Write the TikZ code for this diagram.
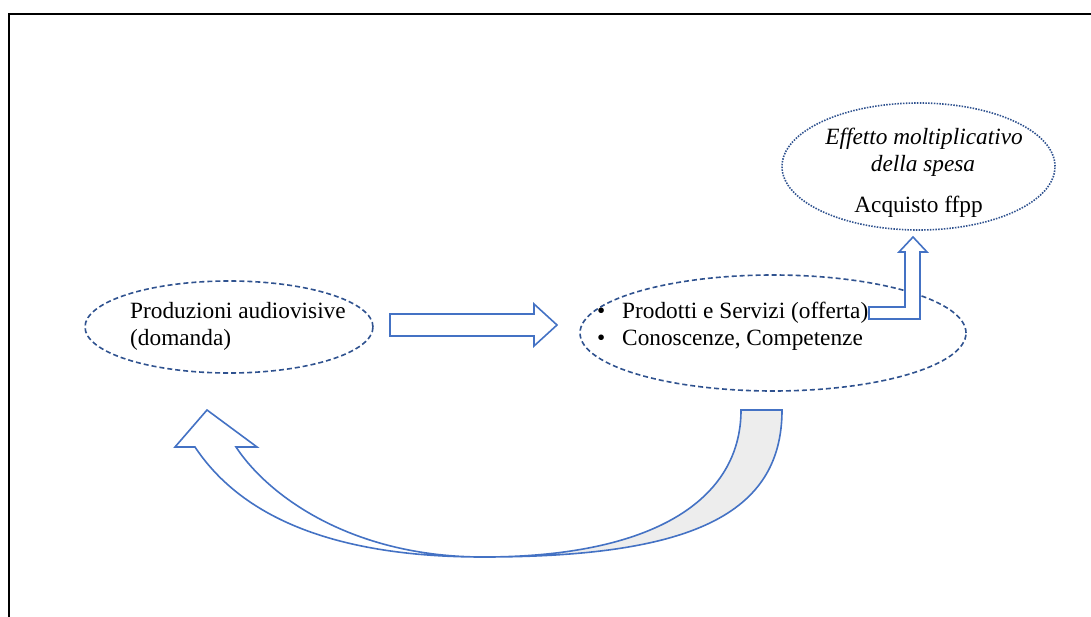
\documentclass[tikz,border=0pt]{standalone}
\usepackage{fontspec}
\setmainfont{Liberation Serif}
\usetikzlibrary{shapes.geometric}
\definecolor{bluscuro}{HTML}{2F528F}
\definecolor{bluword}{HTML}{4472C4}
\definecolor{grigio}{HTML}{EDEDED}

\begin{document}
\begin{tikzpicture}[x=1pt,y=-1pt]
\tikzstyle{every node}=[font=\fontsize{23.3}{27}\selectfont, inner sep=0pt]
\tikzstyle{ovale}=[ellipse, draw=bluscuro, line width=1.6pt, dash pattern=on 5pt off 3pt]
\tikzstyle{puntini}=[dash pattern=on 1.5pt off 1.3pt]
\tikzstyle{freccia}=[draw=bluword, line width=1.6pt, fill=white, line join=miter]
\tikzstyle{riga}=[anchor=base west]
\useasboundingbox (0,0) rectangle (1091,617);
\draw[line width=1.5pt] (9,617) -- (9,14) -- (1091,14);

\node[ovale, minimum width=288pt, minimum height=92pt] (domanda) at (229,327) {};
\node[ovale, minimum width=386pt, minimum height=116pt] (offerta) at (773,333) {};
\node[ovale, puntini, minimum width=273pt, minimum height=127pt] (effetto) at (918.5,166.5) {};

\node[riga] (prod) at (130,319) {Produzioni audiovisive};
\node[riga] (dom) at (130,345) {(domanda)};
\node[riga] (pt1) at (597,318) {\textbullet};
\node[riga] (serv) at (622,318) {Prodotti e Servizi (offerta)};
\node[riga] (pt2) at (597,345) {\textbullet};
\node[riga] (comp) at (622,345) {Conoscenze, Competenze};
\node[anchor=base] (molt) at (924,145) {\itshape Effetto moltiplicativo};
\node[anchor=base] (spesa) at (923,172) {\itshape della spesa};
\node[anchor=base] (acq) at (918.5,213) {Acquisto ffpp};

\draw[freccia] (390,314) -- (534,314) -- (534,304) -- (557,325) -- (534,346) -- (534,336) -- (390,336) -- cycle;
\draw[freccia] (869,319) -- (920,319) -- (920,252) -- (927,252) -- (913,237) -- (899,252) -- (905,252) -- (905,307) -- (869,307) -- cycle;

\draw[freccia, fill=grigio] (741,410) -- (782,410) .. controls (782,515) and (690,557) .. (483,557) .. controls (653,557) and (741,500) .. (741,410) -- cycle;
\draw[freccia] (195,447) .. controls (233.5,505) and (313,557) .. (483,557) .. controls (353,557) and (269,497) .. (236,447) -- (257,447) -- (207,410) -- (175,447) -- cycle;
\end{tikzpicture}
\end{document}
